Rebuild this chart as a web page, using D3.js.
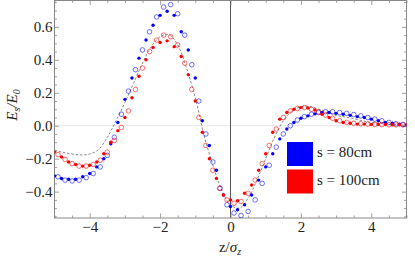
<!DOCTYPE html>
<html><head><meta charset="utf-8">
<script src="https://cdn.jsdelivr.net/npm/d3@7"></script>
<style>body{margin:0;background:#fff}</style>
</head><body><svg id="c" width="415" height="259"></svg>
<script>
// ---- data ----
const zFilled = [-5,-4.8,-4.6,-4.4,-4.2,-4,-3.8,-3.6,-3.4,-3.2,-3,-2.8,-2.6,-2.4,-2.2,-2,-1.8,-1.6,-1.4,-1.2,-1,-0.8,-0.6,-0.4,-0.2,0,0.2,0.4,0.6,0.8,1,1.2,1.4,1.6,1.8,2,2.2,2.4,2.6,2.8,3,3.2,3.4,3.6,3.8,4,4.2,4.4,4.6,4.8,5];
const zOpen = [-4.9,-4.7,-4.5,-4.3,-4.1,-3.9,-3.7,-3.5,-3.3,-3.1,-2.9,-2.7,-2.5,-2.3,-2.1,-1.9,-1.7,-1.5,-1.3,-1.1,-0.9,-0.7,-0.5,-0.3,-0.1,0.1,0.3,0.5,0.7,0.9,1.1,1.3,1.5,1.7,1.9,2.1,2.3,2.5,2.7,2.9,3.1,3.3,3.5,3.7,3.9,4.1,4.3,4.5,4.7,4.9];
const blueFilled = [-0.305,-0.32,-0.325,-0.325,-0.31,-0.29,-0.25,-0.2,-0.11,0.02,0.16,0.29,0.41,0.52,0.61,0.67,0.695,0.67,0.57,0.46,0.29,0.03,-0.12,-0.27,-0.42,-0.49,-0.51,-0.48,-0.42,-0.33,-0.25,-0.17,-0.08,-0.02,0.02,0.045,0.06,0.072,0.08,0.08,0.075,0.07,0.063,0.055,0.05,0.04,0.03,0.02,0.015,0.01,0.005];
const blueOpen = [-0.31,-0.33,-0.335,-0.33,-0.315,-0.29,-0.25,-0.18,-0.07,0.07,0.21,0.34,0.46,0.57,0.66,0.72,0.735,0.68,0.55,0.37,0.15,-0.05,-0.22,-0.38,-0.48,-0.53,-0.545,-0.52,-0.45,-0.35,-0.24,-0.13,-0.05,0,0.035,0.055,0.07,0.08,0.085,0.085,0.08,0.075,0.068,0.06,0.05,0.04,0.03,0.02,0.012,0.008];
const redFilled = [-0.16,-0.19,-0.22,-0.235,-0.245,-0.24,-0.22,-0.17,-0.1,-0.03,0.05,0.17,0.3,0.4,0.475,0.505,0.515,0.48,0.42,0.31,0.15,-0.04,-0.2,-0.32,-0.42,-0.45,-0.455,-0.41,-0.36,-0.27,-0.17,-0.04,0.04,0.08,0.1,0.11,0.108,0.095,0.07,0.05,0.03,0.02,0.015,0.01,0.01,0.008,0.008,0.007,0.006,0.006,0.005];
const redOpen = [-0.175,-0.205,-0.23,-0.245,-0.245,-0.235,-0.21,-0.16,-0.09,-0.01,0.09,0.22,0.35,0.45,0.52,0.55,0.54,0.49,0.38,0.22,0.05,-0.12,-0.27,-0.38,-0.45,-0.47,-0.46,-0.41,-0.33,-0.23,-0.12,-0.02,0.05,0.09,0.105,0.11,0.1,0.085,0.065,0.045,0.03,0.02,0.015,0.012,0.01,0.008,0.007,0.006,0.005,0.005];
const zTheory = [-5,-4.75,-4.5,-4.25,-4,-3.75,-3.5,-3.25,-3,-2.75,-2.5,-2.25,-2,-1.75,-1.5,-1.25,-1,-0.75,-0.5,-0.25,0,0.25,0.5,0.75,1,1.25,1.5,1.75,2,2.25,2.5,2.75,3,3.25,3.5,3.75,4,4.25,4.5,4.75,5];
const theory = [-0.15,-0.162,-0.172,-0.177,-0.172,-0.145,-0.07,0.03,0.14,0.26,0.38,0.48,0.54,0.553,0.49,0.35,0.17,-0.06,-0.24,-0.39,-0.48,-0.5,-0.44,-0.33,-0.2,-0.07,0.03,0.09,0.115,0.118,0.1,0.08,0.063,0.053,0.043,0.03,0.02,0.015,0.01,0.006,0.003];
const xMajor = [-4,-2,0,2,4];
const yMajor = [-0.4,-0.2,0,0.2,0.4,0.6];
const legendLabels = ["s = 80cm","s = 100cm"];
const colors = ["#0000ff","#ff0000"];

// ---- chart ----
const FONT = "Liberation Serif";
const svg = d3.select("#c");
const L=54.5, R=406.5, T=0.5, B=218;
const x = d3.scaleLinear().domain([-5,5]).range([L,R]);
const y = d3.scaleLinear().domain([-0.56,0.76]).range([B,T]);
const fmtX = d => d<0 ? "\u2212"+Math.abs(d) : String(d);
const fmtY = d => d<0 ? "\u2212"+Math.abs(d).toFixed(1) : d.toFixed(1);
const xMinor = d3.range(-5,5.001,0.5).filter(v=>!xMajor.some(m=>Math.abs(m-v)<1e-6));
const yMinor = d3.range(-0.55,0.76,0.05).filter(v=>!yMajor.some(m=>Math.abs(m-v)<1e-6));

svg.append("defs").append("clipPath").attr("id","clip").append("rect")
  .attr("x",L).attr("y",T).attr("width",R-L).attr("height",B-T);

// zero lines
svg.append("line").attr("x1",L).attr("x2",R).attr("y1",y(0)).attr("y2",y(0)).attr("stroke","#e6e6e6").attr("stroke-width",1);
svg.append("line").attr("x1",x(0)).attr("x2",x(0)).attr("y1",T).attr("y2",B).attr("stroke","#555").attr("stroke-width",1);

function tickAxis(gen, tr, vals, size){
  const g = svg.append("g").attr("transform",tr).call(gen.tickValues(vals).tickSize(size).tickFormat(""));
  g.select(".domain").remove();
  g.selectAll("line").attr("stroke","#888").attr("stroke-width",0.8);
}
tickAxis(d3.axisBottom(x), `translate(0,${B})`, xMajor, -4.5);
tickAxis(d3.axisBottom(x), `translate(0,${B})`, xMinor, -2.5);
tickAxis(d3.axisTop(x), `translate(0,${T})`, xMajor, -4.5);
tickAxis(d3.axisTop(x), `translate(0,${T})`, xMinor, -2.5);
tickAxis(d3.axisLeft(y), `translate(${L},0)`, yMajor, -4.5);
tickAxis(d3.axisLeft(y), `translate(${L},0)`, yMinor, -2.5);
tickAxis(d3.axisRight(y), `translate(${R},0)`, yMajor, -4.5);
tickAxis(d3.axisRight(y), `translate(${R},0)`, yMinor, -2.5);

// labels
const gxl = svg.append("g").attr("transform",`translate(0,${B})`)
  .call(d3.axisBottom(x).tickValues(xMajor).tickSize(0).tickPadding(3.5).tickFormat(fmtX));
gxl.select(".domain").remove();
gxl.selectAll("text").style("font-family",FONT).style("font-size","15px").attr("fill","#222");
const gyl = svg.append("g").attr("transform",`translate(${L},0)`)
  .call(d3.axisLeft(y).tickValues(yMajor).tickSize(0).tickPadding(2).tickFormat(fmtY));
gyl.select(".domain").remove();
gyl.selectAll("text").style("font-family",FONT).style("font-size","15px").attr("fill","#222");

// frame
svg.append("rect").attr("x",L).attr("y",T).attr("width",R-L).attr("height",B-T)
  .attr("fill","none").attr("stroke","#888").attr("stroke-width",1);

const plot = svg.append("g").attr("clip-path","url(#clip)");

// theory dashed curve
const line = d3.line().x(d=>x(d[0])).y(d=>y(d[1])).curve(d3.curveCatmullRom);
plot.append("path").datum(zTheory.map((z,i)=>[z,theory[i]]))
  .attr("d",line).attr("fill","none").attr("stroke","#555").attr("stroke-width",0.7).attr("stroke-dasharray","2.5,1.8");

function openPts(vals,col){
  plot.append("g").selectAll("circle").data(zOpen.map((z,i)=>[z,vals[i]])).join("circle")
    .attr("cx",d=>x(d[0])).attr("cy",d=>y(d[1])).attr("r",2.3)
    .attr("fill","none").attr("stroke",col).attr("stroke-width",0.7).attr("stroke-opacity",0.8);
}
function filledPts(vals,col){
  plot.append("g").selectAll("circle").data(zFilled.map((z,i)=>[z,vals[i]])).join("circle")
    .attr("cx",d=>x(d[0])).attr("cy",d=>y(d[1])).attr("r",1.7).attr("fill",col);
}
openPts(blueOpen,colors[0]);
openPts(redOpen,colors[1]);
filledPts(blueFilled,colors[0]);
filledPts(redFilled,colors[1]);

// legend
const lg = svg.append("g");
legendLabels.forEach((t,i)=>{
  lg.append("rect").attr("x",287).attr("y",142+i*27.5).attr("width",26).attr("height",24).attr("fill",colors[i]);
  lg.append("text").attr("x",317).attr("y",157+i*27.5).style("font-family",FONT).style("font-size","15px").attr("fill","#222").text(t);
});

// axis titles
const xt = svg.append("text").attr("x",230).attr("y",252).attr("text-anchor","middle")
  .style("font-family",FONT).style("font-size","15px").attr("fill","#222");
xt.append("tspan").text("z/");
xt.append("tspan").style("font-style","italic").text("\u03c3");
xt.append("tspan").style("font-style","italic").style("font-size","10px").attr("dy",3).text("z");

const yt = svg.append("text").attr("transform","translate(17,105) rotate(-90)").attr("text-anchor","middle")
  .style("font-family",FONT).style("font-size","15px").style("font-style","italic").attr("fill","#222");
yt.append("tspan").text("E");
yt.append("tspan").style("font-size","10px").attr("dy",3).text("s");
yt.append("tspan").attr("dy",-3).text("/E");
yt.append("tspan").style("font-size","10px").attr("dy",3).text("0");
</script></body></html>
